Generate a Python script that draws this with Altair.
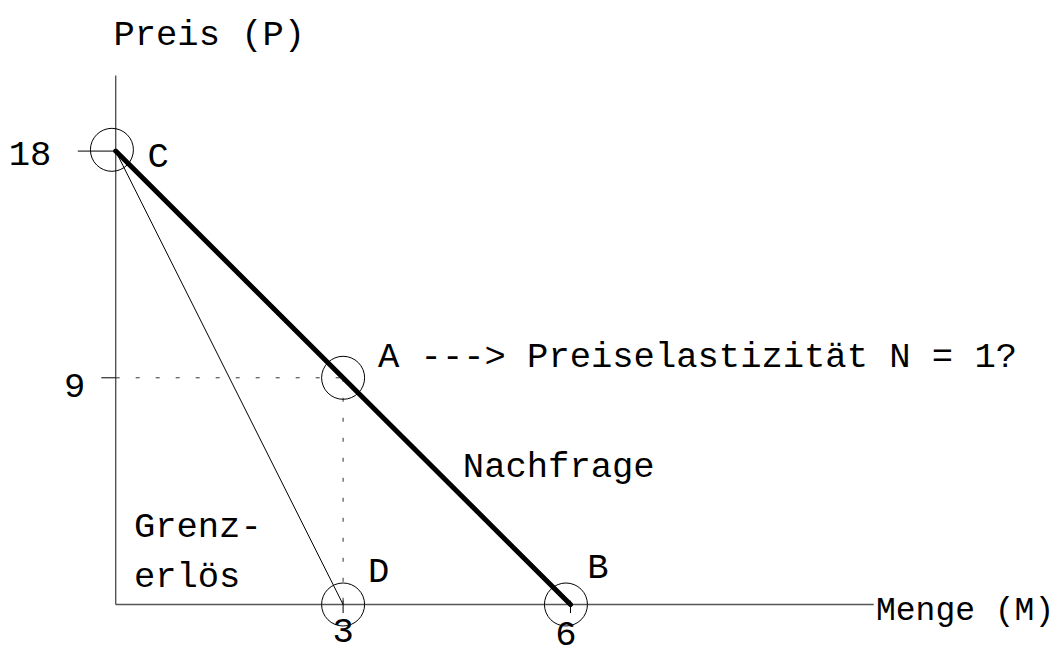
import altair as alt
import pandas as pd

# ---- values (data units: M on x, P on y) ----
demand_m = [0, 6]
demand_p = [18, 0]
mr_m = [0, 3]
mr_p = [18, 0]

axis_x_end = 10.0
axis_y_end = 21.0

circle_names = ["C", "A", "D", "B"]
circle_m = [-0.05, 3, 3, 5.94]
circle_p = [18.05, 9, 0, 0]

tick_p_values = [18, 9]
tick_m_values = [3, 6]

label_left_text = ["Preis (P)", "C", "A ---> Preiselastizität N = 1?", "Nachfrage",
                   "Grenz-", "erlös", "D", "B"]
label_left_m = [-0.03, 0.42, 3.46, 4.58, 0.24, 0.24, 3.33, 6.22]
label_left_p = [22.21, 17.37, 9.43, 5.06, 2.68, 0.69, 0.89, 1.05]

label_right_text = ["18", "9"]
label_right_m = [-0.85, -0.40]
label_right_p = [17.45, 8.24]

label_center_text = ["3", "6"]
label_center_m = [3.0, 5.94]
label_center_p = [-1.49, -1.61]

axis_title_m = ["Menge (M)"]
axis_title_mx = [10.03]
axis_title_py = [-0.61]

# ---- scales: plot area mapped to the whole page region ----
X_DOM = [-1.4208, 12.405]
Y_DOM = [-2.0445, 23.680]
xs = alt.Scale(domain=X_DOM, nice=False, zero=False)
ys = alt.Scale(domain=Y_DOM, nice=False, zero=False)

FONT = "Liberation Mono"
FS = 35.5


def seg_df(rows):
    return pd.DataFrame(rows, columns=["x", "y", "x2", "y2"])


def rules(df, **kw):
    return alt.Chart(df).mark_rule(**kw).encode(
        x=alt.X("x:Q", scale=xs, axis=None),
        y=alt.Y("y:Q", scale=ys, axis=None),
        x2="x2:Q",
        y2="y2:Q",
    )


axes_df = seg_df([
    [0, 0, 0, axis_y_end],
    [0, 0, axis_x_end, 0],
])

thin_df = seg_df(
    [[mr_m[0], mr_p[0], mr_m[1], mr_p[1]],
     [-0.5, tick_p_values[0], 0, tick_p_values[0]],
     [-0.19, tick_p_values[1], 0, tick_p_values[1]]]
    + [[m, 0.15, m, -0.34] for m in tick_m_values]
)

dotted_df = seg_df([
    [0, tick_p_values[1], tick_m_values[0], tick_p_values[1]],
    [tick_m_values[0], tick_p_values[1], tick_m_values[0], 0],
])

demand_df = seg_df([[demand_m[0], demand_p[0], demand_m[1], demand_p[1]]])

axes_layer = rules(axes_df, color="#555555", strokeWidth=1.4)
thin_layer = rules(thin_df, color="black", strokeWidth=1)
dotted_layer = rules(dotted_df, color="#333333", strokeWidth=1, strokeDash=[4, 16])
demand_layer = rules(demand_df, color="black", strokeWidth=5, strokeCap="round")

circ_df = pd.DataFrame({"name": circle_names, "m": circle_m, "p": circle_p})
circles = alt.Chart(circ_df).mark_point(
    shape="circle", filled=False, size=1849, color="black", strokeWidth=1, opacity=1
).encode(
    x=alt.X("m:Q", scale=xs, axis=None),
    y=alt.Y("p:Q", scale=ys, axis=None),
)


def text_layer(texts, ms, ps, align, size=FS):
    df = pd.DataFrame({"t": texts, "m": ms, "p": ps})
    return alt.Chart(df).mark_text(
        align=align, baseline="alphabetic", font=FONT, fontSize=size, color="black"
    ).encode(
        x=alt.X("m:Q", scale=xs, axis=None),
        y=alt.Y("p:Q", scale=ys, axis=None),
        text="t:N",
    )


t_left = text_layer(label_left_text, label_left_m, label_left_p, "left")
t_right = text_layer(label_right_text, label_right_m, label_right_p, "right")
t_center = text_layer(label_center_text, label_center_m, label_center_p, "center")
t_menge = text_layer(axis_title_m, axis_title_mx, axis_title_py, "left", size=33)

chart = alt.layer(
    axes_layer, dotted_layer, thin_layer, demand_layer, circles,
    t_left, t_right, t_center, t_menge,
).properties(
    width=1048, height=648, autosize=alt.AutoSizeParams(type="none"), padding=0,
    background="white",
).configure_view(stroke=None)

chart.save("out.html", embed_options={"renderer": "svg", "actions": False})
